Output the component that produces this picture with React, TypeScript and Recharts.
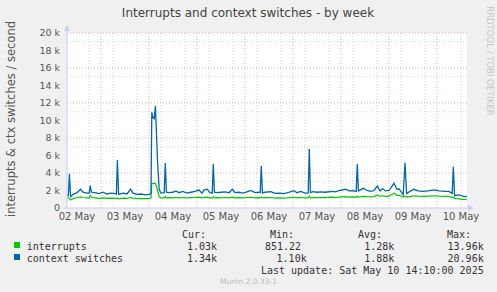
import React from 'react';
import { LineChart, Line, XAxis, YAxis, CartesianGrid } from 'recharts';

// time is in hours since 02 May 00:00
const hours = [
  7, 7.7, 8.2, 8.8, 10, 12, 13.8, 15, 17, 18.1, 18.6, 19.2, 21, 23, 25, 27, 29, 31, 31.7, 32.2,
  32.8, 35, 37, 38.8, 40, 42, 44, 46, 48, 49, 49.4, 50, 50.6, 51.2, 52.3, 53.1, 54, 55.6, 56.15, 56.7,
  58, 60, 61.4, 63, 64.9, 67, 69, 71, 73, 74.5, 75.5, 77, 78.5, 79.6, 80.15, 80.7, 82, 84, 86, 88,
  89.7, 91, 93, 95, 97, 98.9, 101, 103, 103.6, 104.15, 104.7, 106, 108.9, 111, 113, 115, 117, 120.5, 122, 123.9,
  126, 127.6, 128.15, 128.7, 130, 132, 134, 136, 139.7, 141, 143, 146.4, 148, 150, 151.6, 152.15, 152.7, 155.2, 157, 159,
  160.5, 162.15, 163.5, 164.65, 166.5, 168, 170.5, 172, 173, 175.1, 176, 176.8, 178.5, 180.5, 182.5, 185, 187.5, 190.5, 193, 196,
  198, 199.6, 200.15, 200.8, 203, 205.5, 207,
];

const interrupts = [
  1290, 1200, 1050, 920, 1050, 1200, 1280, 1200, 1150, 1150, 1450, 1200, 1150, 1100, 1150, 1100, 1120, 1100, 1100, 1150,
  1050, 1120, 1100, 1200, 1120, 1080, 1100, 1080, 1100, 1150, 2800, 2820, 2820, 2800, 2000, 1250, 1150, 1150, 1300, 1150,
  1180, 1150, 1200, 1150, 1200, 1150, 1180, 1200, 1250, 1150, 1220, 1250, 1150, 1150, 1300, 1150, 1180, 1150, 1200, 1150,
  1250, 1150, 1180, 1150, 1200, 1230, 1150, 1180, 1150, 1250, 1150, 1180, 1200, 1120, 1150, 1120, 1150, 1230, 1150, 1200,
  1150, 1150, 1350, 1150, 1200, 1180, 1200, 1180, 1250, 1200, 1250, 1300, 1250, 1280, 1250, 1350, 1250, 1330, 1300, 1280,
  1300, 1500, 1320, 1400, 1320, 1350, 1700, 1450, 1450, 1250, 1350, 1250, 1300, 1400, 1350, 1320, 1350, 1400, 1350, 1320,
  1320, 1200, 1250, 1100, 1050, 950, 1030,
];

const ctxSwitches = [
  1500, 1450, 3900, 1300, 1550, 1750, 2150, 1800, 1700, 1700, 2550, 1800, 1750, 1650, 1800, 1600, 1700, 1650, 1600, 5480,
  1550, 1700, 1600, 2150, 1700, 1550, 1600, 1500, 1550, 1650, 10940, 10300, 10200, 11650, 5200, 2100, 1700, 1750, 5150, 1800,
  1750, 1800, 1950, 1750, 1900, 1700, 1800, 1900, 2050, 1700, 2050, 2150, 1750, 1700, 5030, 1800, 1750, 1800, 1850, 1750,
  2140, 1750, 1800, 1700, 1850, 2000, 1750, 1800, 1750, 4800, 1700, 1800, 1860, 1680, 1700, 1650, 1720, 1980, 1750, 1900,
  1700, 1700, 6740, 1750, 1860, 1800, 1850, 1800, 1900, 1850, 1980, 2140, 1950, 1980, 1900, 5030, 1950, 2250, 2000, 1900,
  2000, 2510, 1950, 2200, 1950, 2000, 2820, 2150, 2200, 1500, 5180, 1650, 1900, 2140, 1950, 1900, 1950, 2060, 1950, 1900,
  1900, 1650, 4720, 1400, 1500, 1300, 1340,
];

const dayLabels = ['02 May', '03 May', '04 May', '05 May', '06 May', '07 May', '08 May', '09 May', '10 May'];
const labelHours = [12, 36, 60, 84, 108, 132, 156, 180, 204];
const midnightHours = [24, 48, 72, 96, 120, 144, 168, 192];
const sixHourMarks = [12, 18, 30, 36, 42, 54, 60, 66, 78, 84, 90, 102, 108, 114, 126, 132, 138, 150, 156, 162, 174, 180, 186, 198, 204];
const yTicks = [0, 2000, 4000, 6000, 8000, 10000, 12000, 14000, 16000, 18000, 20000];
const yMinor = [1000, 3000, 5000, 7000, 9000, 11000, 13000, 15000, 17000, 19000];
const yMajor = [2000, 4000, 6000, 8000, 10000, 12000, 14000, 16000, 18000, 20000];

const legendRows = [
  { name: 'interrupts', color: '#00cc00', cur: '1.03k', min: '851.22', avg: '1.28k', max: '13.96k' },
  { name: 'context switches', color: '#0066b3', cur: '1.34k', min: '1.10k', avg: '1.88k', max: '20.96k' },
];

const data = hours.map((h, i) => ({ h, interrupts: interrupts[i], ctx: ctxSwitches[i] }));

const sans = 'DejaVu Sans, sans-serif';
const mono = 'DejaVu Sans Mono, monospace';
const axisColor = '#c8ccf8';

export default function App() {
  return (
    <div style={{ position: 'absolute', left: 0, top: 0, width: 497, height: 292, background: '#f0f0f0' }}>
      <LineChart width={497} height={292} data={data} margin={{ top: 33, right: 30, bottom: 64, left: 7 }}>
        <CartesianGrid fill="#ffffff" stroke="#d4d4d4" strokeDasharray="1 2" horizontalValues={yMinor} verticalValues={sixHourMarks} />
        <CartesianGrid fill="none" stroke="#e8a8a8" strokeDasharray="1 2" horizontalValues={yMajor} verticalValues={midnightHours} />
        <XAxis
          dataKey="h"
          type="number"
          domain={[7, 207]}
          ticks={labelHours}
          tickFormatter={(v) => dayLabels[labelHours.indexOf(v)]}
          axisLine={false}
          tickLine={false}
          tickSize={0}
          tickMargin={5}
          height={20}
          tick={{ fontSize: 10, fill: '#555', fontFamily: sans }}
          allowDataOverflow
        />
        <YAxis
          type="number"
          domain={[0, 20000]}
          ticks={yTicks}
          tickFormatter={(v) => (v === 0 ? '0' : `${v / 1000} k`)}
          axisLine={false}
          tickLine={false}
          tickSize={0}
          tickMargin={7}
          width={60}
          tick={{ fontSize: 9.5, fill: '#555', fontFamily: sans }}
          allowDataOverflow
        />
        <Line dataKey="interrupts" stroke="#00cc00" strokeWidth={1.2} dot={false} isAnimationActive={false} type="linear" />
        <Line dataKey="ctx" stroke="#0066b3" strokeWidth={1.3} dot={false} isAnimationActive={false} type="linear" />
      </LineChart>
      <svg width={497} height={292} style={{ position: 'absolute', left: 0, top: 0, pointerEvents: 'none' }}>
        <line x1={67} y1={208} x2={67} y2={28} stroke={axisColor} />
        <polygon points="64,31 70,31 67,25" fill={axisColor} />
        <line x1={64} y1={208} x2={469} y2={208} stroke={axisColor} />
        <polygon points="468,205 468,211 474,208" fill={axisColor} />
        <text x={248} y={17} textAnchor="middle" fontFamily={sans} fontSize={12} fill="#444">
          Interrupts and context switches - by week
        </text>
        <text transform="translate(15,119) rotate(-90)" textAnchor="middle" fontFamily={sans} fontSize={11.5} fill="#555">
          interrupts &amp; ctx switches / second
        </text>
        <text transform="translate(487,61) rotate(90)" textAnchor="middle" fontFamily={sans} fontSize={8.5} fill="#c8c8c8">
          RRDTOOL / TOBI OETIKER
        </text>
        <g fontFamily={mono} fontSize={10} fill="#333">
          <text x={182} y={237.5}>Cur:</text>
          <text x={270} y={237.5}>Min:</text>
          <text x={358} y={237.5}>Avg:</text>
          <text x={447} y={237.5}>Max:</text>
          {legendRows.map((r, i) => {
            const y = 249.5 + i * 12;
            return (
              <g key={r.name}>
                <rect x={14} y={y - 7.5} width={6} height={6} fill={r.color} />
                <text x={26.7} y={y}>{r.name}</text>
                <text x={217} y={y} textAnchor="end">{r.cur}</text>
                <text x={i === 0 ? 301 : 306.7} y={y} textAnchor="end">{r.min}</text>
                <text x={394.3} y={y} textAnchor="end">{r.avg}</text>
                <text x={483.7} y={y} textAnchor="end">{r.max}</text>
              </g>
            );
          })}
          <text x={483.7} y={273.5} textAnchor="end">Last update:  Sat May 10 14:10:00 2025</text>
        </g>
        <text x={248.5} y={284} textAnchor="middle" fontFamily={sans} fontSize={7.5} fill="#bbb">
          Munin 2.0.33-1
        </text>
      </svg>
    </div>
  );
}
